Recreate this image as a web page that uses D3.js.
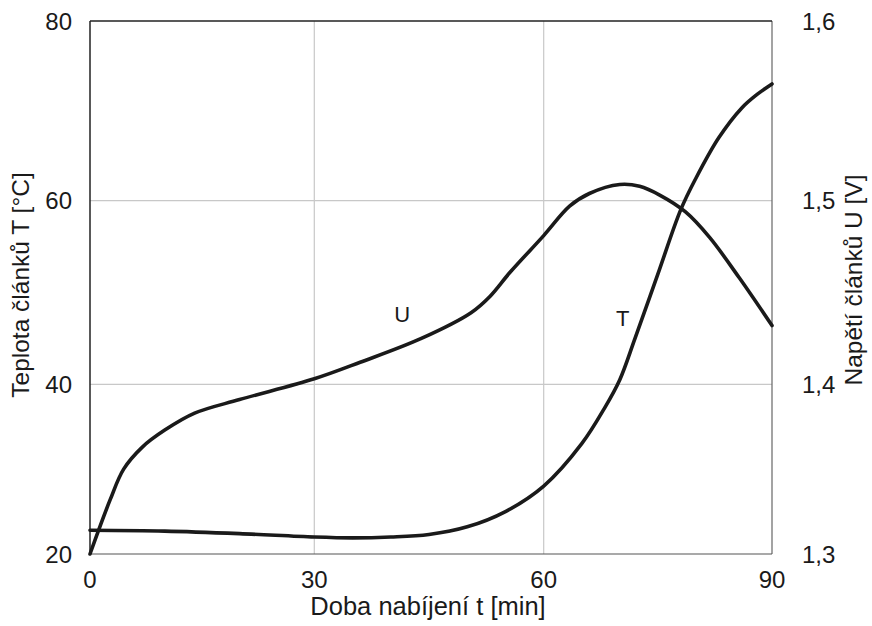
<!DOCTYPE html>
<html>
<head>
<meta charset="utf-8">
<script src="https://cdn.jsdelivr.net/npm/d3@7"></script>
<style>
  html, body { margin: 0; padding: 0; background: #fff; }
  svg { display: block; }
  text { font-family: "Liberation Sans", Arial, Helvetica, sans-serif; fill: #1a1a1a; }
</style>
</head>
<body>
<svg id="chart" width="872" height="626"></svg>
<script>
// ---- data ----
const xTicks = [0, 30, 60, 90];
const tempTicks = [20, 40, 60, 80];
const voltTicks = [1.3, 1.4, 1.5, 1.6];
const voltTickLabels = ["1,3", "1,4", "1,5", "1,6"];

const timeT = [0, 10, 20, 30, 35, 40, 45, 50, 55, 60, 65, 68, 70, 72, 75, 78, 80, 83, 86, 88, 90];
const tempT = [22.8, 22.7, 22.4, 22.0, 21.9, 22.0, 22.3, 23.2, 25.0, 28.0, 33.0, 37.2, 40.5, 45.0, 52.0, 59.0, 62.5, 67.0, 70.3, 71.8, 73.0];

const timeU = [0, 2.7, 4.5, 7, 10, 14, 20, 30, 36, 44, 50.5, 53, 55.6, 60, 63.4, 66, 70, 72.6, 75.3, 78.6, 81.8, 85.7, 90];
const voltU = [1.300, 1.332, 1.350, 1.363, 1.373, 1.383, 1.391, 1.403, 1.412, 1.425, 1.439, 1.448, 1.461, 1.481, 1.497, 1.504, 1.509, 1.508, 1.503, 1.494, 1.480, 1.458, 1.432];

const labelU = {t: 41.5, v: 1.438, text: "U"};
const labelT = {t: 70.4, v: 47.2, text: "T"};

// ---- scales ----
const svg = d3.select("#chart");
const x = d3.scaleLinear().domain(xTicks).range([90, 314.3, 543.7, 772]);
const yT = d3.scaleLinear().domain(tempTicks).range([554, 384.3, 200.7, 21]);
const yU = d3.scaleLinear().domain(voltTicks).range([554, 384.3, 200.7, 21]);

const L = 90, R = 772, T = 21, B = 554;

// gridlines
svg.append("g").selectAll("line").data([30, 60]).join("line")
  .attr("x1", d => x(d)).attr("x2", d => x(d)).attr("y1", T).attr("y2", B)
  .attr("stroke", "#c8c8c8").attr("stroke-width", 1.2);
svg.append("g").selectAll("line").data([40, 60]).join("line")
  .attr("y1", d => yT(d)).attr("y2", d => yT(d)).attr("x1", L).attr("x2", R)
  .attr("stroke", "#c8c8c8").attr("stroke-width", 1.2);

// frame
svg.append("line").attr("x1", R).attr("x2", R).attr("y1", T).attr("y2", B).attr("stroke", "#666").attr("stroke-width", 1.2);
svg.append("line").attr("x1", L).attr("x2", R).attr("y1", B).attr("y2", B).attr("stroke", "#555").attr("stroke-width", 1.2);
svg.append("line").attr("x1", L).attr("x2", R).attr("y1", T).attr("y2", T).attr("stroke", "#222").attr("stroke-width", 1.5);
svg.append("line").attr("x1", L).attr("x2", L).attr("y1", T).attr("y2", B).attr("stroke", "#222").attr("stroke-width", 1.5);

// tick labels
const fs = 24;
svg.append("g").selectAll("text").data(tempTicks).join("text")
  .attr("x", 72).attr("y", d => yT(d)).attr("text-anchor", "end")
  .attr("dy", "0.36em").attr("font-size", fs).text(d => d);
svg.append("g").selectAll("text").data(voltTicks).join("text")
  .attr("x", 802).attr("y", d => yU(d)).attr("text-anchor", "start")
  .attr("dy", "0.36em").attr("font-size", fs).text((d, i) => voltTickLabels[i]);
svg.append("g").selectAll("text").data(xTicks).join("text")
  .attr("x", d => x(d)).attr("y", 588).attr("text-anchor", "middle")
  .attr("font-size", fs).text(d => d);

// axis titles
svg.append("text").attr("transform", "translate(29,285) rotate(-90)")
  .attr("text-anchor", "middle").attr("font-size", 24.5).text("Teplota článků T [°C]");
svg.append("text").attr("transform", "translate(862,280) rotate(-90)")
  .attr("text-anchor", "middle").attr("font-size", 24.5).text("Napětí článků U [V]");
svg.append("text").attr("x", 428).attr("y", 615)
  .attr("text-anchor", "middle").attr("font-size", 25.5).text("Doba nabíjení t [min]");

// curves
const curve = d3.curveCatmullRom.alpha(0.5);
const lineT = d3.line().x((d, i) => x(timeT[i])).y(d => yT(d)).curve(curve);
const lineU = d3.line().x((d, i) => x(timeU[i])).y(d => yU(d)).curve(curve);

svg.append("path").attr("d", lineT(tempT)).attr("fill", "none")
  .attr("stroke", "#1a1a1a").attr("stroke-width", 3.6).attr("stroke-linecap", "round");
svg.append("path").attr("d", lineU(voltU)).attr("fill", "none")
  .attr("stroke", "#1a1a1a").attr("stroke-width", 3.6).attr("stroke-linecap", "round");

// curve labels
svg.append("text").attr("x", x(labelU.t)).attr("y", yU(labelU.v)).attr("text-anchor", "middle")
  .attr("dy", "0.36em").attr("font-size", 22).text(labelU.text);
svg.append("text").attr("x", x(labelT.t)).attr("y", yT(labelT.v)).attr("text-anchor", "middle")
  .attr("dy", "0.36em").attr("font-size", 22).text(labelT.text);
</script>
</body>
</html>
